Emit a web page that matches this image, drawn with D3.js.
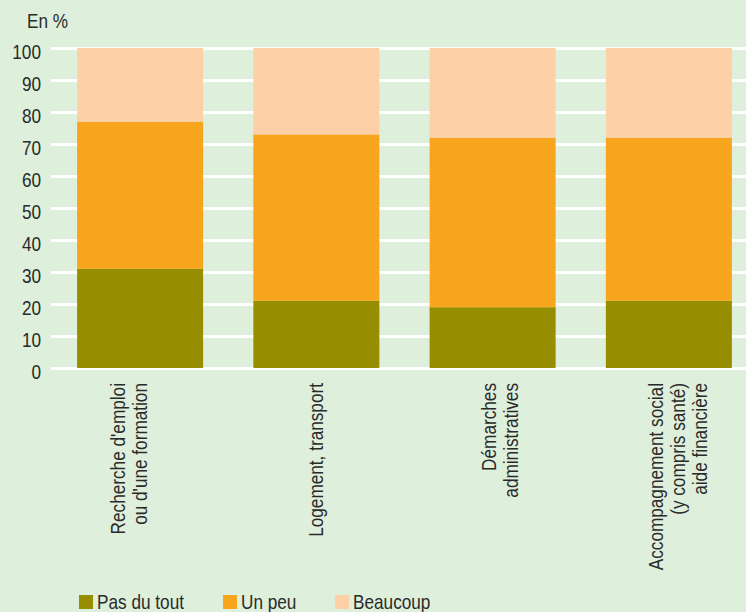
<!DOCTYPE html>
<html>
<head>
<meta charset="utf-8">
<script src="https://cdn.jsdelivr.net/npm/d3@7"></script>
<style>
  html, body { margin: 0; padding: 0; background: #deefdc; }
  svg { display: block; }
  text { font-family: "Liberation Sans", Arial, sans-serif; fill: #2a2a2a; font-size: 20px; }
</style>
</head>
<body>
<svg id="chart"></svg>
<script>
        // Categories (multi-line labels) and series values, in %
        const categories = [
            ["Recherche d'emploi", "ou d'une formation"],
            ["Logement, transport"],
            ["Démarches", "administratives"],
            ["Accompagnement social", "(y compris santé)", "aide financière"]
        ];
        const series = ["Pas du tout", "Un peu", "Beaucoup"];
        const pasDuTout = [31, 21, 19, 21];
        const unPeu = [46, 52, 53, 51];
        const beaucoup = [23, 27, 28, 28];
        const yTicks = [0, 10, 20, 30, 40, 50, 60, 70, 80, 90, 100];
        const colors = ["#968d00", "#f7a51d", "#fdd0a8"];

        const W = 746, H = 612;
        const plotTop = 48, plotBottom = 368, plotLeft = 52, plotRight = 757;
        const narrow = 'scale(0.86,1)'; // source font is condensed

        const svg = d3.select('#chart')
            .attr('width', W)
            .attr('height', H);

        svg.append('rect').attr('width', W).attr('height', H).attr('fill', '#deefdc');

        // build table for the stack
        const table = categories.map((c, i) => ({
            key: i,
            "Pas du tout": pasDuTout[i],
            "Un peu": unPeu[i],
            "Beaucoup": beaucoup[i]
        }));
        const stacked = d3.stack().keys(series)(table);

        const xScale = d3.scaleBand()
            .domain(categories.map((d, i) => i))
            .range([plotLeft, plotRight])
            .paddingInner(0.285)
            .paddingOuter(0.1425);

        const yScale = d3.scaleLinear()
            .domain([0, 100])
            .range([plotBottom, plotTop]);

        // white gridlines
        const yAxis = svg.append('g')
            .attr('class', 'axis-y')
            .attr('transform', `translate(${plotLeft - 1},0)`)
            .call(d3.axisRight(yScale).tickValues(yTicks).tickSize(W).tickFormat(''));
        yAxis.select('.domain').remove();
        yAxis.selectAll('.tick line').attr('stroke', '#ffffff').attr('stroke-width', 3);

        // tick labels
        svg.append('g')
            .selectAll('text')
            .data(yTicks)
            .enter()
            .append('text')
            .attr('transform', d => `translate(41,${yScale(d) + 11}) ${narrow}`)
            .attr('text-anchor', 'end')
            .text(d => d);

        svg.append('text')
            .attr('transform', `translate(27,28) ${narrow}`)
            .text('En %');

        // bars
        svg.selectAll('.layer')
            .data(stacked)
            .enter()
            .append('g')
            .attr('class', 'layer')
            .attr('fill', (d, i) => colors[i])
            .selectAll('rect')
            .data(d => d)
            .enter()
            .append('rect')
            .attr('x', d => xScale(d.data.key))
            .attr('y', d => yScale(d[1]))
            .attr('width', xScale.bandwidth())
            .attr('height', d => yScale(d[0]) - yScale(d[1]));

        // category labels, rotated (hand-placed in the source, hence the shifts)
        const lineH = 22;
        const labelShift = [-11, 0, 7, 9];
        categories.forEach((lines, i) => {
            const cx = xScale(i) + xScale.bandwidth() / 2 + labelShift[i];
            const n = lines.length;
            lines.forEach((ln, j) => {
                const bx = cx + (j - (n - 1) / 2) * lineH + 7;
                svg.append('text')
                    .attr('transform', `translate(${bx},${plotBottom + 15}) rotate(-90) ${narrow}`)
                    .attr('text-anchor', 'end')
                    .text(ln);
            });
        });

        // legend
        const legendX = [79, 223, 335];
        const legend = svg.append('g').attr('class', 'legend');
        series.forEach((s, i) => {
            legend.append('rect')
                .attr('x', legendX[i])
                .attr('y', 595)
                .attr('width', 14)
                .attr('height', 14)
                .attr('fill', colors[i]);
            legend.append('text')
                .attr('transform', `translate(${legendX[i] + 18},609) ${narrow}`)
                .text(s);
        });
</script>
</body>
</html>
